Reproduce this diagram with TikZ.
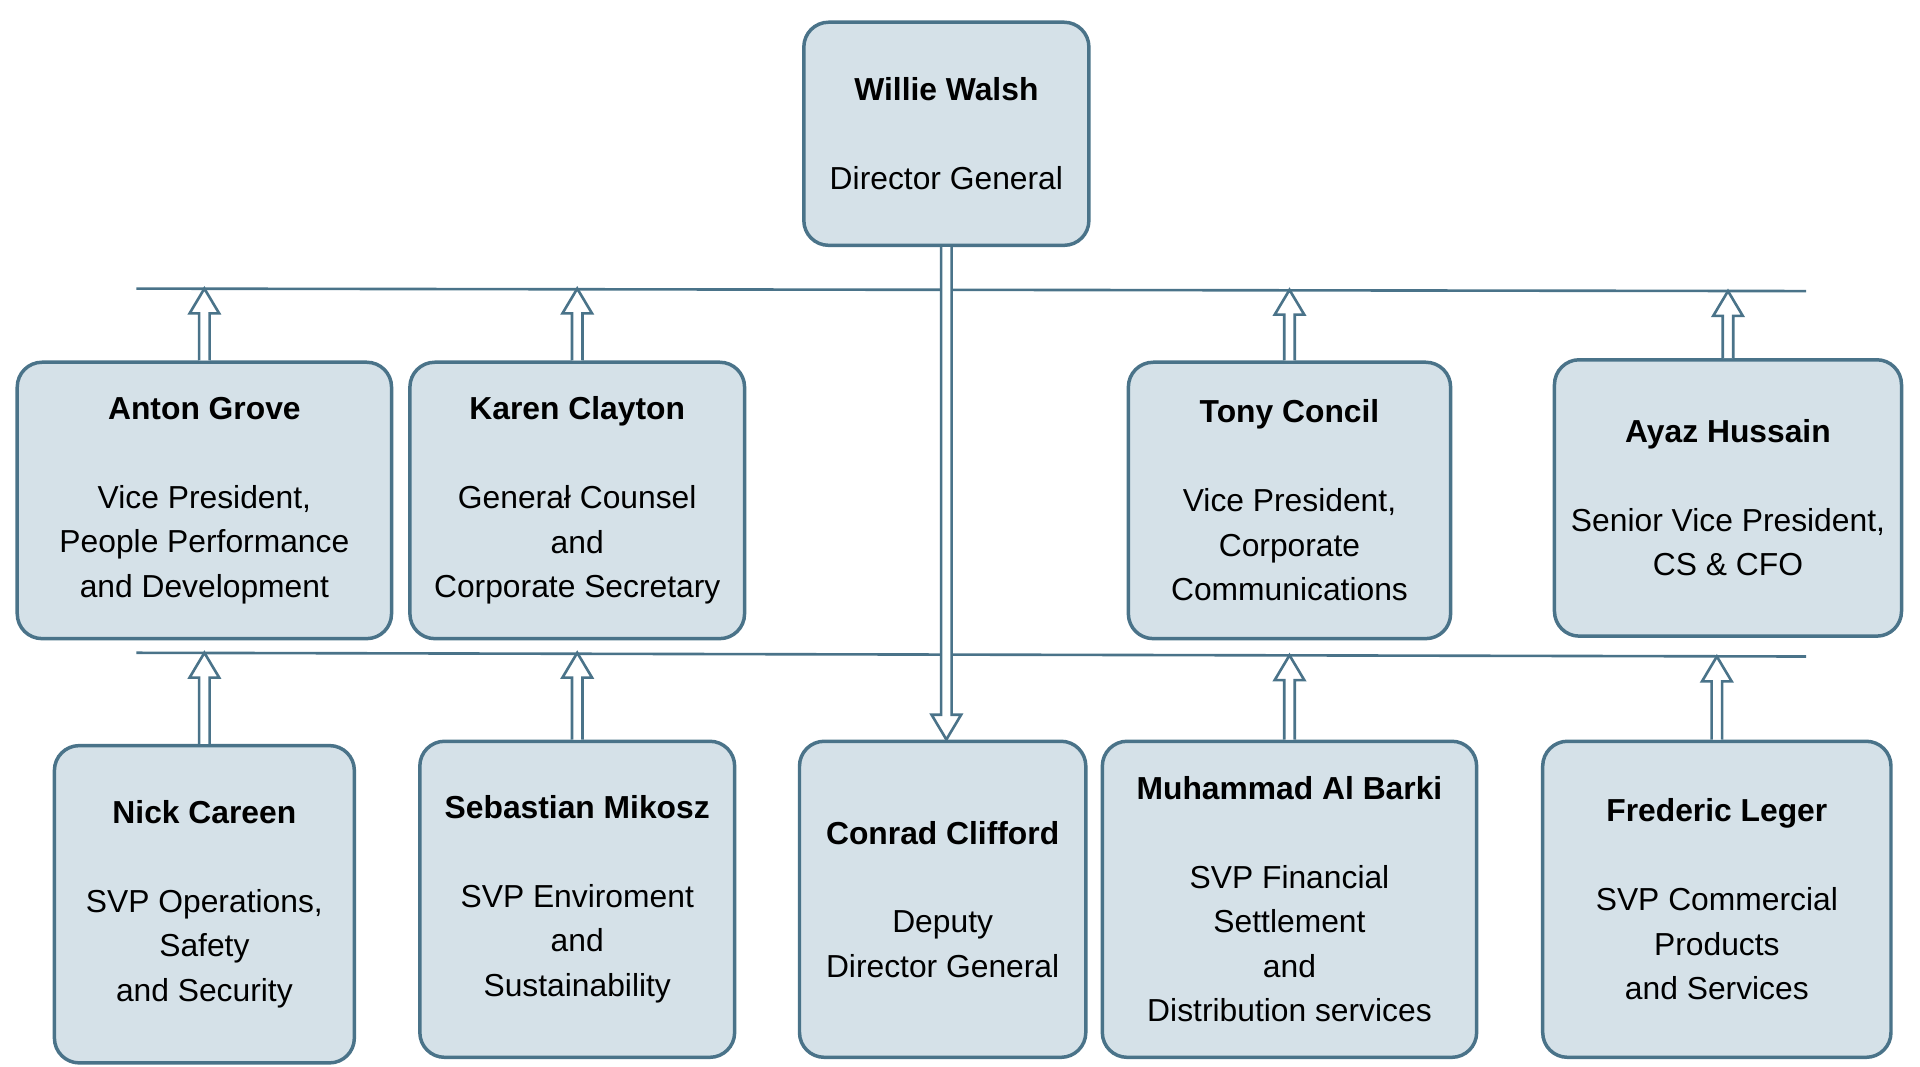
\documentclass[tikz,border=0pt]{standalone}
\usepackage{fontspec}
\setmainfont{Liberation Sans}
\usetikzlibrary{calc}
\definecolor{boxfill}{HTML}{D5E1E8}
\definecolor{boxline}{HTML}{4A7389}

\tikzset{
  person/.style={draw=boxline, fill=boxfill, line width=0.8pt, rounded corners=0.2cm,
    align=center, font=\fontsize{7.3}{10.2}\selectfont, inner sep=0pt},
  arrowline/.style={draw=boxline, fill=white, line width=0.6pt, line join=miter}
}

% hollow arrow from the top of a box up to a coordinate
\newcommand\riser[2]{%
  \path[arrowline] let \p1=(#1.north), \p2=(#2) in
    (\x1-1.2pt,\y1) -- (\x1-1.2pt,\y2-5.7pt) -- (\x1-3.4pt,\y2-5.7pt) -- (\x1,\y2)
    -- (\x1+3.4pt,\y2-5.7pt) -- (\x1+1.2pt,\y2-5.7pt) -- (\x1+1.2pt,\y1);}

\begin{document}
\begin{tikzpicture}[x=0.01cm, y=-0.01cm]
      \useasboundingbox (0,0) rectangle (1550,861);

      % Lignes
      \coordinate (L1w) at (110,233);
      \coordinate (L1e) at (1458,235);
      \coordinate (L2w) at (110,527);
      \coordinate (L2e) at (1458,530);
      \draw[boxline, line width=0.6pt] (L1w) -- (L1e);
      \draw[boxline, line width=0.6pt] (L2w) -- (L2e);

      % Direction
      \node[person, minimum width=2.3cm, minimum height=1.8cm] (walsh) at (764,108)
        {\textbf{Willie Walsh}\\[10.2pt]Director General};

      % Premier niveau
      \node[person, minimum width=3.02cm, minimum height=2.23cm] (grove) at (165,404)
        {\textbf{Anton Grove}\\[10.2pt]Vice President,\\People Performance\\and Development};
      \node[person, minimum width=2.7cm, minimum height=2.23cm] (clayton) at (466,404)
        {\textbf{Karen Clayton}\\[10.2pt]Generał Counsel\\and\\Corporate Secretary};
      \node[person, minimum width=2.6cm, minimum height=2.23cm] (concil) at (1041,404)
        {\textbf{Tony Concil}\\[10.2pt]Vice President,\\Corporate\\Communications};
      \node[person, minimum width=2.8cm, minimum height=2.23cm] (hussain) at (1395,402)
        {\textbf{Ayaz Hussain}\\[10.2pt]Senior Vice President,\\CS \& CFO};

      % Second niveau
      \node[person, minimum width=2.42cm, minimum height=2.56cm] (careen) at (165,730)
        {\textbf{Nick Careen}\\[10.2pt]SVP Operations,\\Safety\\and Security};
      \node[person, minimum width=2.54cm, minimum height=2.55cm] (mikosz) at (466,726)
        {\textbf{Sebastian Mikosz}\\[10.2pt]SVP Enviroment\\and\\Sustainability};
      \node[person, minimum width=2.31cm, minimum height=2.55cm] (clifford) at (761,726)
        {\textbf{Conrad Clifford}\\[10.2pt]Deputy\\Director General};
      \node[person, minimum width=3.02cm, minimum height=2.55cm] (barki) at (1041,726)
        {\textbf{Muhammad Al Barki}\\[10.2pt]SVP Financial\\Settlement\\and\\Distribution services};
      \node[person, minimum width=2.81cm, minimum height=2.55cm] (leger) at (1386,726)
        {\textbf{Frederic Leger}\\[10.2pt]SVP Commercial\\Products\\and Services};

      % Fleches
      \coordinate (t1) at (163,233);
      \coordinate (t2) at (466,233);
      \coordinate (t3) at (1041,234);
      \coordinate (t4) at (1386,235);
      \coordinate (b1) at (163,527);
      \coordinate (b2) at (466,527);
      \coordinate (b3) at (1041,529);
      \coordinate (b4) at (1386,530);
      \riser{grove}{t1}
      \riser{clayton}{t2}
      \riser{concil}{t3}
      \riser{hussain}{t4}
      \riser{careen}{b1}
      \riser{mikosz}{b2}
      \riser{barki}{b3}
      \riser{leger}{b4}

      \path[arrowline] let \p1=(walsh.south), \p2=(clifford.north) in
        (\x1-1.2pt,\y1) -- (\x1-1.2pt,\y2+5.7pt) -- (\x1-3.4pt,\y2+5.7pt) -- (\x1,\y2)
        -- (\x1+3.4pt,\y2+5.7pt) -- (\x1+1.2pt,\y2+5.7pt) -- (\x1+1.2pt,\y1);
\end{tikzpicture}
\end{document}
